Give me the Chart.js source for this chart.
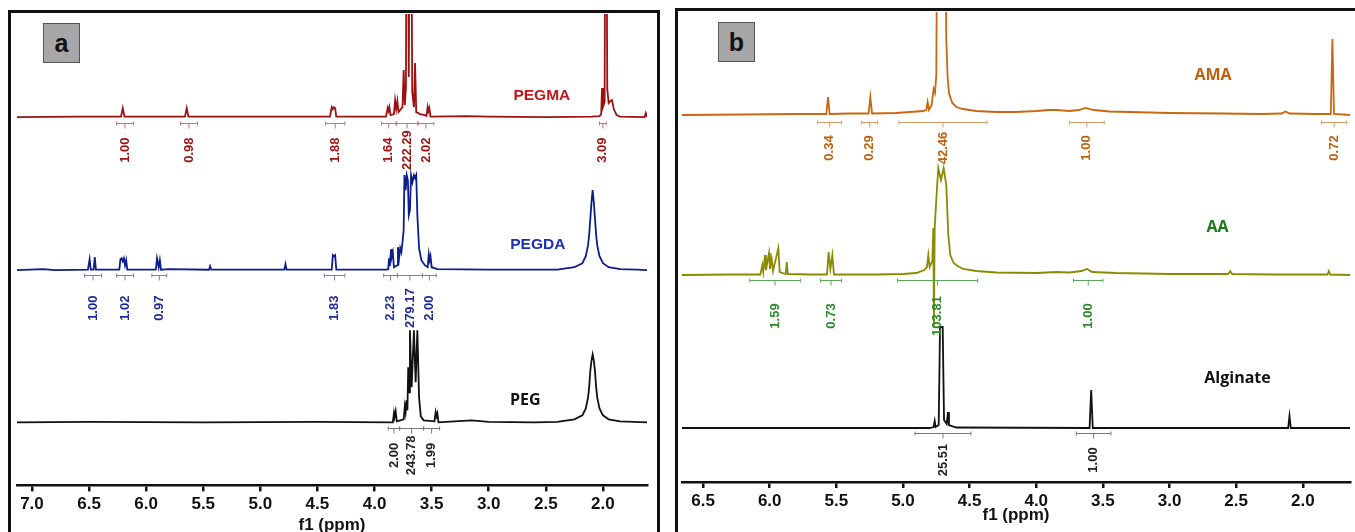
<!DOCTYPE html>
<html><head><meta charset="utf-8">
<script src="https://cdn.jsdelivr.net/npm/chart.js@4/dist/chart.umd.min.js"></script>
<style>
html,body{margin:0;padding:0;background:#fff;}
body{width:1355px;height:532px;overflow:hidden;position:relative;}
canvas{position:absolute;top:0;}
#ca{left:0;}
#cb{left:676px;}
.frame{position:absolute;border:3px solid #111;border-bottom:none;box-sizing:border-box;pointer-events:none;}
#fa{left:8px;top:10px;width:652px;height:540px;}
#fb{left:675px;top:8px;width:700px;height:540px;border-right:none;}
.tag{position:absolute;width:37px;height:40px;background:#a7a7a7;border:1px solid #555;box-sizing:border-box;
 font:bold 25px "Liberation Sans",Arial,sans-serif;color:#111;text-align:center;line-height:38px;}
#ta{left:43px;top:23px;}
#tb{left:718px;top:22px;}
</style></head>
<body>
<canvas id="ca" width="661" height="540"></canvas>
<canvas id="cb" width="679" height="540"></canvas>
<div class="frame" id="fa"></div>
<div class="frame" id="fb"></div>
<div class="tag" id="ta">a</div>
<div class="tag" id="tb">b</div>
<script>
// ---------- tick labels ----------
const TICKS_A = ['7.0','6.5','6.0','5.5','5.0','4.5','4.0','3.5','3.0','2.5','2.0'];
const TICKS_B = ['6.5','6.0','5.5','5.0','4.5','4.0','3.5','3.0','2.5','2.0'];

// ---------- spectra: [ppm, intensity above own baseline] ----------
const PEGMA = [[7.131,0],[6.6,0.5],[6.22,0.5],[6.205,9],[6.19,0.5],[5.66,0.5],[5.645,9],[5.63,0.5],
 [4.39,0.5],[4.375,10],[4.365,8],[4.355,10],[4.345,9],[4.335,0.5],
 [3.90,0.5],[3.885,9],[3.878,6],[3.87,10],[3.86,2],[3.83,3],[3.82,17],[3.81,8],[3.80,16],[3.79,5],
 [3.755,10],[3.745,47],[3.735,12],[3.725,30],[3.715,400],[3.70,40],[3.685,400],[3.67,25],[3.655,10],
 [3.645,54],[3.635,5],[3.60,3],[3.56,2],[3.545,1],[3.535,10],[3.528,6],[3.52,9],[3.51,0.5],
 [3.2,1],[3.0,0.5],[2.5,0],[2.10,0.5],[2.03,1],[2.015,3],[2.008,29],[2.0,10],[1.985,15],[1.975,400],
 [1.962,28],[1.95,14],[1.935,16],[1.92,17],[1.905,8],[1.88,2],[1.85,0.5],[1.635,0],[1.625,4],[1.614,0]];

const PEGDA = [[7.131,0],[6.9,1],[6.8,0],[6.51,0.5],[6.495,11],[6.485,0.5],[6.46,0.5],[6.45,13],[6.44,0.5],
 [6.235,0.5],[6.225,11],[6.215,12],[6.205,9],[6.195,12],[6.185,5],[6.175,10],[6.165,0.5],
 [5.915,0.5],[5.905,12],[5.89,3],[5.88,10],[5.87,0.5],[5.8,1],[5.45,0.5],[5.44,4],[5.43,0.5],
 [4.79,0.5],[4.78,6],[4.77,0.5],[4.375,0.5],[4.365,15],[4.355,14],[4.345,15],[4.335,0.5],
 [3.90,0.5],[3.88,1],[3.873,12],[3.866,4],[3.855,21],[3.848,14],[3.84,18],[3.83,3],[3.80,5],
 [3.795,23],[3.785,12],[3.775,22],[3.765,18],[3.755,28],[3.745,40],[3.738,95],[3.728,80],[3.718,95],
 [3.708,90],[3.70,55],[3.69,60],[3.68,95],[3.668,88],[3.655,95],[3.645,92],[3.635,95],[3.625,55],
 [3.61,22],[3.59,10],[3.56,5],[3.535,3],[3.525,16],[3.518,10],[3.51,14],[3.50,3],[3.45,1],
 [3.0,0.5],[2.40,0.5],[2.25,3],[2.18,7],[2.15,14],[2.13,25],[2.12,36],[2.11,52],[2.10,68],[2.09,80],
 [2.08,68],[2.07,52],[2.06,36],[2.05,25],[2.03,14],[2.00,7],[1.95,3],[1.85,1],[1.70,0.5],[1.614,0]];

const PEG = [[7.131,0],[6.5,0.5],[5.5,0],[4.5,0.5],[3.84,0],[3.83,9],[3.825,5],[3.815,11],[3.805,1],
 [3.745,3],[3.735,16],[3.728,10],[3.72,22],[3.712,12],[3.705,55],[3.698,30],[3.69,92],[3.675,35],
 [3.655,92],[3.64,40],[3.625,92],[3.61,25],[3.595,6],[3.57,2],[3.475,1],[3.465,10],[3.458,6],[3.45,9],
 [3.44,0],[3.3,1],[3.15,2],[3.0,0.5],[2.6,0],[2.40,0.5],[2.25,3],[2.18,7],[2.15,14],[2.13,25],[2.12,36],
 [2.11,52],[2.10,62],[2.09,68],[2.08,62],[2.07,52],[2.06,36],[2.05,25],[2.03,14],[2.00,7],[1.95,3],
 [1.85,1],[1.614,0]];

const AMA = [[6.658,0],[6.2,0.5],[5.8,1],[5.575,1],[5.562,18],[5.55,1],[5.4,1.5],[5.258,1.5],[5.245,18],
 [5.232,1.5],[5.05,2],[4.95,3],[4.85,4],[4.825,5],[4.815,13],[4.805,5],[4.785,10],[4.77,26],[4.76,22],
 [4.75,40],[4.735,400],[4.715,110],[4.695,400],[4.675,75],[4.665,38],[4.655,22],[4.63,12],[4.60,8],
 [4.55,6],[4.45,4],[4.30,3],[4.15,3],[4.0,4],[3.9,5],[3.85,5],[3.75,4],[3.68,5],[3.63,7],[3.57,5],
 [3.45,3.5],[3.3,3],[3.0,2],[2.6,1.5],[2.3,1],[2.16,1.5],[2.13,3.5],[2.10,1.5],[1.90,1],[1.79,1],
 [1.778,76],[1.766,1],[1.70,0.5],[1.646,0]];

const AA = [[6.658,0],[6.3,0.5],[6.07,0.5],[6.055,10],[6.048,3],[6.035,20],[6.028,5],[6.005,22],[5.998,6],
 [5.985,16],[5.975,4],[5.935,27],[5.925,3],[5.88,1],[5.872,13],[5.864,1],[5.7,0.5],[5.57,0.5],
 [5.558,23],[5.545,6],[5.53,20],[5.518,0.5],[5.2,0.5],[5.0,1],[4.90,2],[4.84,5],[4.82,8],[4.81,20],
 [4.80,8],[4.78,14],[4.772,47],[4.768,-52],[4.762,47],[4.748,80],[4.735,107],[4.715,95],[4.695,107],
 [4.675,90],[4.66,40],[4.645,20],[4.62,12],[4.59,9],[4.55,6],[4.45,4],[4.30,2.5],[4.0,2],[3.85,3],
 [3.75,2.5],[3.66,4],[3.62,6],[3.58,3],[3.4,2],[3.0,1],[2.56,1],[2.545,4],[2.53,1],[2.2,0.5],
 [1.815,0.5],[1.805,4],[1.795,0.5],[1.646,0]];

const ALGINATE = [[6.658,0],[4.80,0],[4.77,1],[4.762,7],[4.755,1],[4.732,3],[4.722,101],[4.702,101],
 [4.692,8],[4.672,4],[4.662,16],[4.655,3],[4.60,0.5],[3.60,0],[3.588,38],[3.576,0],[2.11,0],
 [2.10,12],[2.09,0],[1.646,0]];

// ---------- integrals: [from ppm, to ppm, value] ----------
const PEGMA_INT = [[6.26,6.11,'1.00'],[5.70,5.55,'0.98'],[4.43,4.26,'1.88'],[3.94,3.81,'1.64'],
 [3.81,3.62,'222.29'],[3.62,3.48,'2.02'],[2.03,1.97,'3.09']];
const PEGDA_INT = [[6.54,6.39,'1.00'],[6.26,6.11,'1.02'],[5.95,5.82,'0.97'],[4.44,4.26,'1.83'],
 [3.92,3.80,'2.23'],[3.80,3.58,'279.17'],[3.58,3.46,'2.00']];
const PEG_INT = [[3.88,3.78,'2.00'],[3.78,3.57,'243.78'],[3.57,3.43,'1.99']];
const AMA_INT = [[5.64,5.46,'0.34'],[5.31,5.19,'0.29'],[5.03,4.37,'42.46'],[3.75,3.49,'1.00'],[1.86,1.67,'0.72']];
const AA_INT = [[6.15,5.77,'1.59'],[5.62,5.46,'0.73'],[5.04,4.44,'103.81'],[3.72,3.50,'1.00']];
const ALGINATE_INT = [[4.91,4.49,'25.51'],[3.70,3.44,'1.00']];

// ---------- drawing ----------
function integralPlugin(series){
  return {
    id:'integrals',
    afterDatasetsDraw(chart){
      const ctx = chart.ctx, xs = chart.scales.x, ys = chart.scales.y;
      series.forEach(s=>{
        const base = ys.getPixelForValue(s.offset);
        ctx.save();
        ctx.fillStyle = s.nameColor; ctx.font = s.nameFont;
        ctx.textAlign = 'center'; ctx.textBaseline = 'middle';
        ctx.fillText(s.name, xs.getPixelForValue(s.namePpm), base + s.nameDy);
        s.ints.forEach(([a,b,t])=>{
          const xa = xs.getPixelForValue(a), xb = xs.getPixelForValue(b), xc = (xa+xb)/2;
          const yb = Math.round(base + s.brDy) + 0.5;
          ctx.strokeStyle = s.brColor; ctx.lineWidth = 1;
          ctx.beginPath();
          ctx.moveTo(xa,yb); ctx.lineTo(xb,yb);
          ctx.moveTo(xa,yb-2); ctx.lineTo(xa,yb+2);
          ctx.moveTo(xb,yb-2); ctx.lineTo(xb,yb+2);
          ctx.moveTo(xc,yb); ctx.lineTo(xc,yb+5);
          ctx.stroke();
          ctx.save();
          ctx.translate(xc, base + s.lblDy); ctx.rotate(-Math.PI/2);
          ctx.fillStyle = s.lblColor; ctx.font = 'bold 13px "Liberation Sans", Arial, sans-serif';
          ctx.textAlign = 'center'; ctx.textBaseline = 'middle';
          ctx.fillText(t, 0, 0);
          ctx.restore();
        });
        ctx.restore();
      });
    }
  };
}

function makeChart(id, p){
  const tickVals = p.ticks.map(Number);
  const font = {family:'"Liberation Sans", Arial, sans-serif', size:17, weight:'bold'};
  return new Chart(document.getElementById(id), {
    type:'line',
    data:{datasets:p.series.map(s=>({
      label:s.name,
      data:s.data.map(([x,y])=>({x:x, y:y + s.offset})),
      borderColor:s.color, borderWidth:1.8, pointRadius:0, tension:0, fill:false
    }))},
    options:{
      responsive:false, animation:false, events:[],
      layout:{padding:p.padding},
      plugins:{legend:{display:false}, tooltip:{enabled:false}},
      scales:{
        x:{type:'linear', reverse:true, min:p.range[0], max:p.range[1],
          afterBuildTicks:(sc)=>{ sc.ticks = tickVals.map(v=>({value:v})); },
          ticks:{color:'#111', font:font, padding:3, maxRotation:0, autoSkip:false,
                 callback:(v)=>Number(v).toFixed(1)},
          grid:{display:true, drawOnChartArea:false, drawTicks:true, tickLength:6, color:'#111', lineWidth:2.5},
          border:{display:true, color:'#111', width:2.5},
          title:{display:true, text:'f1 (ppm)', color:'#111', font:font, padding:p.titlePad}
        },
        y:{display:false, min:0, max:p.yMax}
      }
    },
    plugins:[integralPlugin(p.series)]
  });
}

const LIB = 'bold 15.5px "Liberation Sans", Arial, sans-serif';
const OPS = 'bold 16px "Open Sans", sans-serif';

makeChart('ca', {
  range:[1.614, 7.131], yMax:471, ticks:TICKS_A,
  padding:{left:17, right:14, top:14, bottom:4.8}, titlePad:{top:-3, bottom:0},
  series:[
    {name:'PEGMA', data:PEGMA, ints:PEGMA_INT, offset:368, color:'#9b1212', nameColor:'#c4161c', nameFont:LIB,
     namePpm:2.535, nameDy:-21, lblColor:'#a01414', brColor:'#c87272', brDy:6, lblDy:33},
    {name:'PEGDA', data:PEGDA, ints:PEGDA_INT, offset:215, color:'#0c1d8c', nameColor:'#1b2fb5', nameFont:LIB,
     namePpm:2.57, nameDy:-25, lblColor:'#1c2a9a', brColor:'#7480b8', brDy:5, lblDy:38},
    {name:'PEG', data:PEG, ints:PEG_INT, offset:63, color:'#111111', nameColor:'#111', nameFont:OPS,
     namePpm:2.68, nameDy:-22, lblColor:'#222', brColor:'#777', brDy:6, lblDy:33}
  ]
});

makeChart('cb', {
  range:[1.646, 6.658], yMax:470, ticks:TICKS_B,
  padding:{left:6, right:5, top:12, bottom:14.8}, titlePad:{top:-9.6, bottom:0},
  series:[
    {name:'AMA', data:AMA, ints:AMA_INT, offset:367, color:'#c8670f', nameColor:'#c0600c', nameFont:OPS,
     namePpm:2.674, nameDy:-40, lblColor:'#c0600c', brColor:'#d89a64', brDy:7, lblDy:33},
    {name:'AA', data:AA, ints:AA_INT, offset:207, color:'#8c8a00', nameColor:'#1a7a1a', nameFont:OPS,
     namePpm:2.64, nameDy:-48, lblColor:'#2a8a2a', brColor:'#5aa85a', brDy:5, lblDy:41},
    {name:'Alginate', data:ALGINATE, ints:ALGINATE_INT, offset:54, color:'#111111', nameColor:'#111', nameFont:OPS,
     namePpm:2.49, nameDy:-50, lblColor:'#222', brColor:'#777', brDy:5, lblDy:32}
  ]
});
</script>
</body></html>
